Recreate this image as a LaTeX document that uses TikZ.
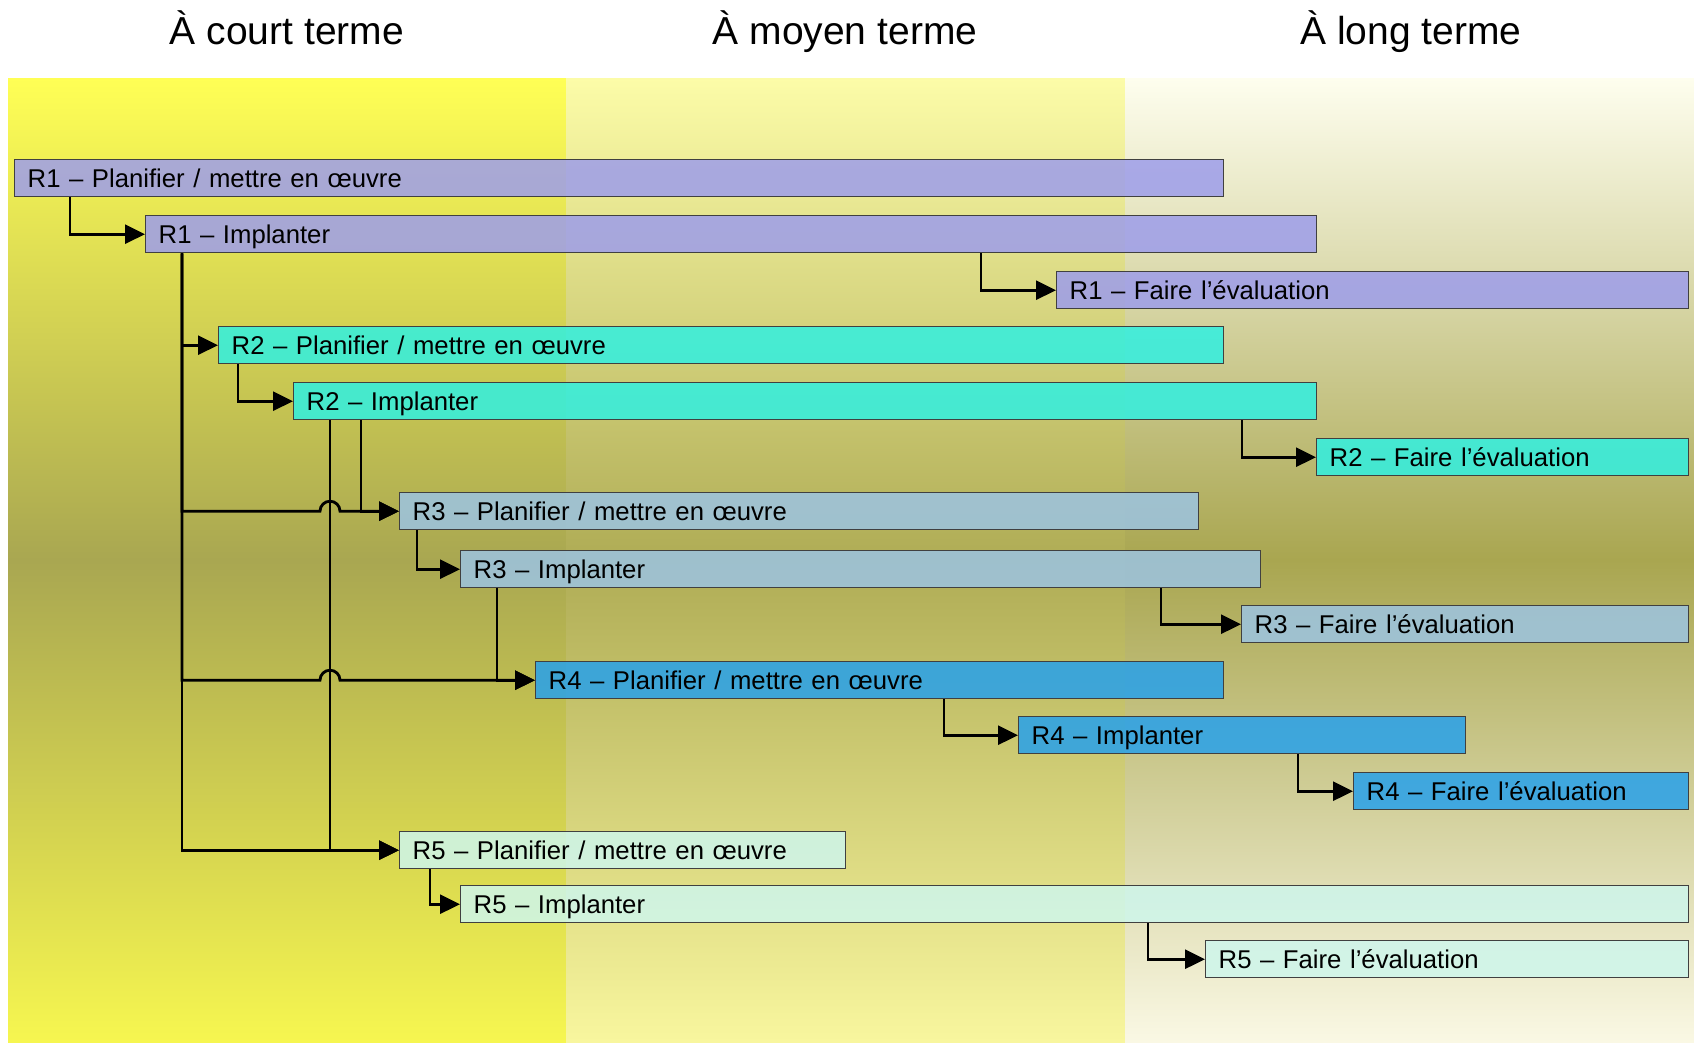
\documentclass[tikz,border=0pt]{standalone}
\usepackage{fontspec}
\setmainfont{Liberation Sans}
\usetikzlibrary{arrows.meta,calc}
\definecolor{boxline}{HTML}{404040}
\definecolor{cA}{HTML}{9D9DEB}
\definecolor{cB}{HTML}{30F0E2}
\definecolor{cC}{HTML}{9CC4E2}
\definecolor{cD}{HTML}{27A1EB}
\definecolor{cE}{HTML}{CEF6EC}
\definecolor{y1t}{HTML}{FFFF55}
\definecolor{y1m}{HTML}{A9A751}
\definecolor{y1b}{HTML}{F6F650}
\definecolor{y2t}{HTML}{FCFCA8}
\definecolor{y2m}{HTML}{AFAC55}
\definecolor{y2b}{HTML}{F8F69E}
\definecolor{y3t}{HTML}{FEFEEE}
\definecolor{y3m}{HTML}{A9A650}
\definecolor{y3b}{HTML}{FAF8E4}
\begin{document}
\begin{tikzpicture}[x=1pt,y=-1pt,
  box/.style={draw=boxline, line width=1.4pt, fill opacity=0.85, text opacity=1, draw opacity=1,
    anchor=north west, minimum height=37pt, inner xsep=13pt, inner ysep=0pt, align=left,
    text height=22pt, text depth=4pt,
    font=\fontsize{25.7}{30}\selectfont},
  conn/.style={line width=2.8pt, -{Triangle[length=20pt,width=19pt]}},
  title/.style={font=\fontsize{39}{44}\selectfont, anchor=base}]
\useasboundingbox (0,0) rectangle (1694,1042);
\fill[white] (0,0) rectangle (1694,1042);
% background columns
\shade[top color=y1t, bottom color=y1b, middle color=y1m] (8,78) rectangle (566,1042);
\shade[top color=y2t, bottom color=y2b, middle color=y2m] (566,78) rectangle (1125,1042);
\shade[top color=y3t, bottom color=y3b, middle color=y3m] (1125,78) rectangle (1694,1042);
% titles
\node[title] (t1) at (287,44) {À court terme};
\node[title] (t2) at (845,44) {À moyen terme};
\node[title] (t3) at (1411,44) {À long terme};
% boxes
\node[box, fill=cA, text width=1183pt] (r1p) at (14,159) {R1 – Planifier / mettre en œuvre};
\node[box, fill=cA, text width=1145pt] (r1i) at (145,215) {R1 – Implanter};
\node[box, fill=cA, text width=606pt] (r1f) at (1056,271) {R1 – Faire l’évaluation};
\node[box, fill=cB, text width=979pt] (r2p) at (218,326) {R2 – Planifier / mettre en œuvre};
\node[box, fill=cB, text width=997pt] (r2i) at (293,382) {R2 – Implanter};
\node[box, fill=cB, text width=346pt] (r2f) at (1316,438) {R2 – Faire l’évaluation};
\node[box, fill=cC, text width=773pt] (r3p) at (399,492) {R3 – Planifier / mettre en œuvre};
\node[box, fill=cC, text width=774pt] (r3i) at (460,550) {R3 – Implanter};
\node[box, fill=cC, text width=421pt] (r3f) at (1241,605) {R3 – Faire l’évaluation};
\node[box, fill=cD, text width=662pt] (r4p) at (535,661) {R4 – Planifier / mettre en œuvre};
\node[box, fill=cD, text width=421pt] (r4i) at (1018,716) {R4 – Implanter};
\node[box, fill=cD, text width=309pt] (r4f) at (1353,772) {R4 – Faire l’évaluation};
\node[box, fill=cE, text width=420pt] (r5p) at (399,831) {R5 – Planifier / mettre en œuvre};
\node[box, fill=cE, text width=1202pt] (r5i) at (460,885) {R5 – Implanter};
\node[box, fill=cE, text width=457pt] (r5f) at (1205,940) {R5 – Faire l’évaluation};
% helper coordinates
\coordinate (bus) at ([xshift=37pt]r1i.south west);
\coordinate (b2) at ([xshift=37pt]r2i.south west);
\coordinate (h3) at (b2 |- r3p.west);
\coordinate (h4) at (b2 |- r4p.west);
% connectors
\draw[conn] ([xshift=56pt]r1p.south west) |- (r1i.west);
\draw[conn] ([xshift=836pt]r1i.south west) |- (r1f.west);
\draw[conn] (bus) |- (r2p.west);
\draw[conn] (bus) |- ([xshift=-10pt]h3) arc[start angle=180, end angle=0, radius=10pt] -- (r3p.west);
\draw[conn] (bus) |- ([xshift=-10pt]h4) arc[start angle=180, end angle=0, radius=10pt] -- (r4p.west);
\draw[conn] (bus) |- (r5p.west);
\draw[conn] ([xshift=20pt]r2p.south west) |- (r2i.west);
\draw[conn] ([xshift=949pt]r2i.south west) |- (r2f.west);
\draw[conn] (b2) |- (r5p.west);
\draw[conn] ([xshift=68pt]r2i.south west) |- (r3p.west);
\draw[conn] ([xshift=18pt]r3p.south west) |- (r3i.west);
\draw[conn] ([xshift=701pt]r3i.south west) |- (r3f.west);
\draw[conn] ([xshift=37pt]r3i.south west) |- (r4p.west);
\draw[conn] ([xshift=409pt]r4p.south west) |- (r4i.west);
\draw[conn] ([xshift=280pt]r4i.south west) |- (r4f.west);
\draw[conn] ([xshift=31pt]r5p.south west) |- (r5i.west);
\draw[conn] ([xshift=688pt]r5i.south west) |- (r5f.west);
\end{tikzpicture}
\end{document}
